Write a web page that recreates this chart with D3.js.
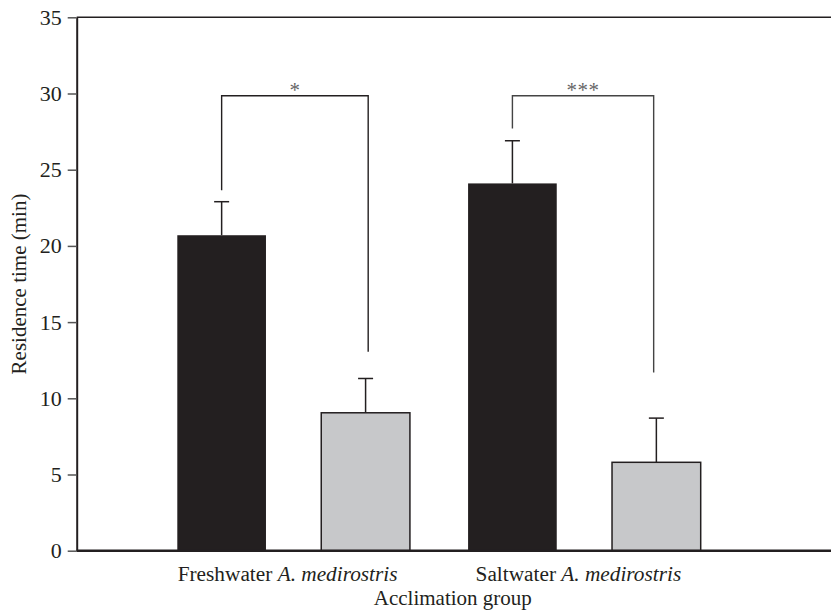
<!DOCTYPE html>
<html>
<head>
<meta charset="utf-8">
<script src="https://cdn.jsdelivr.net/npm/d3@7"></script>
<style>
  html, body { margin: 0; padding: 0; background: #fff; }
  svg { display: block; }
  text { font-family: "Liberation Serif", "Times New Roman", serif; fill: #231f20; }
</style>
</head>
<body>
<svg id="chart" width="831" height="611"></svg>
<script>
// ---- data ----
const groups = ["Freshwater", "Saltwater"];
const speciesLabel = "A. medirostris";
const series = ["dark", "light"];
const darkValues = [20.7, 24.1];
const darkErrors = [2.2, 2.8];
const lightValues = [9.05, 5.8];
const lightErrors = [2.25, 2.9];
const bracketLevel = [29.85, 29.85];
const bracketLeftEnd = [23.65, 27.7];
const bracketRightEnd = [13.05, 11.7];
const bracketLabels = ["*", "***"];
const yTicks = [0, 5, 10, 15, 20, 25, 30, 35];
const yTitle = "Residence time (min)";
const xTitle = "Acclimation group";

// ---- layout ----
const svg = d3.select("#chart");
const plotLeft = 76.7, plotRight = 831, plotTop = 17.3, plotBottom = 550.7;
const colors = { dark: "#231f20", light: "#c7c8ca" };

const y = d3.scaleLinear().domain([0, 35]).range([plotBottom, plotTop]);
const x0 = d3.scaleBand().domain(groups).range([177.3, 700.7]).paddingInner(0.2).paddingOuter(0);
const x1 = d3.scaleBand().domain(series).range([0, x0.bandwidth()]).paddingInner(0.384).paddingOuter(0);

const rows = [];
groups.forEach((g, i) => {
  rows.push({ g, s: "dark", v: darkValues[i], e: darkErrors[i] });
  rows.push({ g, s: "light", v: lightValues[i], e: lightErrors[i] });
});
const cx = d => x0(d.g) + x1(d.s) + x1.bandwidth() / 2;

// top frame line
svg.append("line")
  .attr("x1", plotLeft).attr("x2", plotRight)
  .attr("y1", y(35)).attr("y2", y(35))
  .attr("stroke", "#231f20").attr("stroke-width", 1.6);

// error bars (drawn first, bars on top)
const capHalf = 7.5;
svg.append("g").selectAll("g").data(rows).join("g").each(function(d) {
  const gg = d3.select(this);
  gg.append("line").attr("x1", cx(d)).attr("x2", cx(d))
    .attr("y1", y(d.v)).attr("y2", y(d.v + d.e))
    .attr("stroke", "#231f20").attr("stroke-width", 1.5);
  gg.append("line").attr("x1", cx(d) - capHalf).attr("x2", cx(d) + capHalf)
    .attr("y1", y(d.v + d.e)).attr("y2", y(d.v + d.e))
    .attr("stroke", "#231f20").attr("stroke-width", 1.5);
});

// bars
svg.append("g").selectAll("rect").data(rows).join("rect")
  .attr("x", d => x0(d.g) + x1(d.s))
  .attr("y", d => y(d.v))
  .attr("width", x1.bandwidth())
  .attr("height", d => y(0) - y(d.v))
  .attr("fill", d => colors[d.s])
  .attr("stroke", "#231f20")
  .attr("stroke-width", d => d.s === "light" ? 1.5 : 0);

// significance brackets
const bracketOffset = [2.6, -2.7];
groups.forEach((g, i) => {
  const xl = x0(g) + x1("dark") + x1.bandwidth() / 2;
  const xr = x0(g) + x1("light") + x1.bandwidth() / 2 + bracketOffset[i];
  const path = d3.path();
  path.moveTo(xl, y(bracketLeftEnd[i]));
  path.lineTo(xl, y(bracketLevel[i]));
  path.lineTo(xr, y(bracketLevel[i]));
  path.lineTo(xr, y(bracketRightEnd[i]));
  svg.append("path").attr("d", path.toString())
    .attr("fill", "none").attr("stroke", i === 0 ? "#231f20" : "#444")
    .attr("stroke-width", 1.4);
  svg.append("text")
    .attr("x", (xl + xr) / 2).attr("y", y(bracketLevel[i]) + 1)
    .attr("text-anchor", "middle")
    .attr("font-size", 21)
    .attr("letter-spacing", 0.5)
    .style("fill", "#666")
    .text(bracketLabels[i]);
});

// y axis
const yAxis = d3.axisLeft(y).tickValues(yTicks).tickSize(9).tickPadding(6).tickSizeOuter(0);
const gy = svg.append("g").attr("transform", `translate(${plotLeft},0)`).call(yAxis);
gy.select(".domain").attr("stroke", "#231f20").attr("stroke-width", 2);
gy.selectAll(".tick line").attr("stroke", "#555").attr("stroke-width", 1.5);
gy.selectAll(".tick text").attr("font-size", 22).attr("font-family", "Liberation Serif, serif").style("fill", "#231f20");

// x axis baseline
svg.append("line")
  .attr("x1", plotLeft).attr("x2", plotRight)
  .attr("y1", y(0)).attr("y2", y(0))
  .attr("stroke", "#231f20").attr("stroke-width", 2.5);

// category labels
const labelShift = -6;
groups.forEach(g => {
  const t = svg.append("text")
    .attr("x", x0(g) + x0.bandwidth() / 2 + labelShift)
    .attr("y", 581)
    .attr("text-anchor", "middle")
    .attr("font-size", 21.3);
  t.append("tspan").text(g + " ");
  t.append("tspan").attr("font-style", "italic").text(speciesLabel);
});

// axis titles
svg.append("text")
  .attr("x", (plotLeft + plotRight) / 2 - 1).attr("y", 605)
  .attr("text-anchor", "middle").attr("font-size", 21)
  .text(xTitle);

svg.append("text")
  .attr("transform", `translate(26,${(plotTop + plotBottom) / 2}) rotate(-90)`)
  .attr("text-anchor", "middle").attr("font-size", 21)
  .text(yTitle);
</script>
</body>
</html>
